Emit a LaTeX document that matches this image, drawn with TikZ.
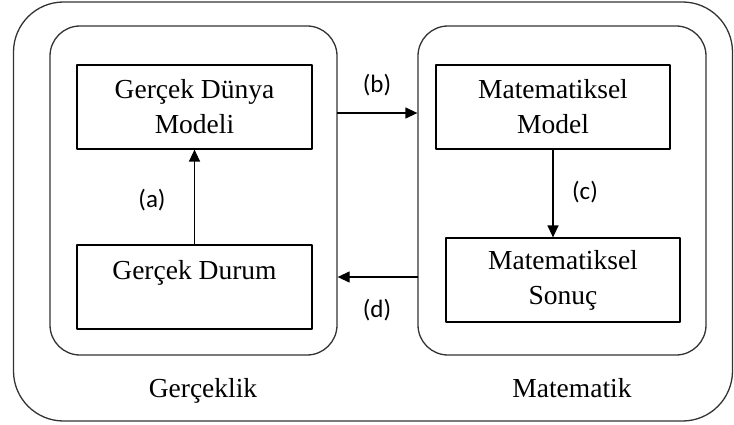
\documentclass[tikz,border=0pt]{standalone}
\usepackage{fontspec}
\setmainfont{Liberation Serif}
\newfontfamily\tagfont{Carlito}
\usetikzlibrary{arrows.meta}

\begin{document}
\begin{tikzpicture}[x=1pt,y=-1pt,>={Triangle[length=12pt,width=11pt]},line join=round,
  frame/.style={draw=black!80,line width=1.3pt,rounded corners=30pt,inner sep=0pt},
  box/.style={draw,line width=1.2pt,inner sep=0pt,align=center,
    minimum width=235pt,minimum height=84pt,font=\fontsize{27.5}{35}\selectfont},
  tag/.style={font=\tagfont\fontsize{25}{30}\selectfont},
  title/.style={anchor=base,font=\fontsize{27.5}{35}\selectfont},
  conn/.style={->,line width=1.3pt}]
  \useasboundingbox (0,0) rectangle (734,425);
  % frames
  \node[frame,rounded corners=50pt,minimum width=719pt,minimum height=419pt] (outer) at (373,211.5) {};
  \node[frame,minimum width=287pt,minimum height=329pt] (gercek) at (193.5,190.5) {};
  \node[frame,minimum width=288pt,minimum height=329pt] (matem) at (562,190.5) {};
  % boxes
  \node[box] (gdm) at (194.5,107) {Gerçek Dünya\\Modeli};
  \node[box] (gd) at (194.5,287) {Gerçek Durum\\\mbox{}};
  \node[box,minimum width=234pt] (mm) at (553,107) {Matematiksel\\Model};
  \node[box,minimum width=234pt] (ms) at (563,280) {Matematiksel\\Sonuç};
  % connectors
  \coordinate (b0) at (337,113);
  \coordinate (d0) at (418,277);
  \draw[conn] (gd.north) -- (gdm.south);
  \draw[conn] (b0) -- (matem.west |- b0);
  \draw[conn] (mm.south) -- (mm.south |- ms.north);
  \draw[conn] (d0) -- (gercek.east |- d0);
  % labels
  \node[tag] (la) at (152,200) {(a)};
  \node[tag] (lb) at (377,85) {(b)};
  \node[tag] (lc) at (585,192) {(c)};
  \node[tag] (ld) at (377,310) {(d)};
  \node[title] (tg) at (203,397) {Gerçeklik};
  \node[title] (tm) at (572,397) {Matematik};
\end{tikzpicture}
\end{document}
